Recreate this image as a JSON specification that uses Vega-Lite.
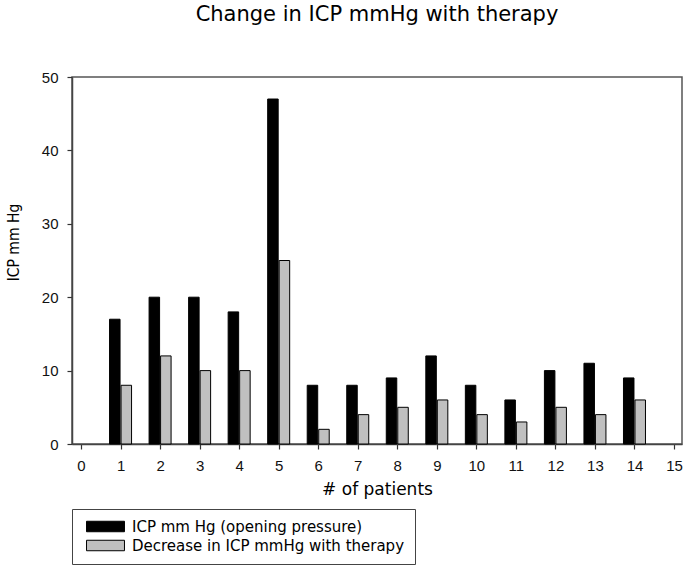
{
  "$schema": "https://vega.github.io/schema/vega-lite/v6.json",
  "width": 610,
  "height": 367,
  "autosize": {"type": "none"},
  "padding": {"left": 72, "top": 77, "right": 7, "bottom": 128},
  "background": "white",
  "title": {
    "text": "Change in ICP mmHg with therapy",
    "font": "DejaVu Sans",
    "fontSize": 21,
    "fontWeight": "normal",
    "color": "#000000",
    "anchor": "middle",
    "offset": 45
  },
  "config": {
    "view": {"stroke": "#555555", "strokeWidth": 1.5},
    "axis": {
      "grid": false,
      "domainColor": "#444444",
      "domainWidth": 1.5,
      "tickColor": "#333333",
      "tickWidth": 1.2,
      "tickSize": 5,
      "labelFont": "Liberation Sans",
      "labelFontSize": 15,
      "labelColor": "#111111",
      "labelPadding": 9,
      "titleFontWeight": "normal",
      "titleColor": "#000000"
    }
  },
  "data": {
    "values": [
      {"patient": 1, "series": "ICP mm Hg (opening pressure)", "value": 17},
      {"patient": 2, "series": "ICP mm Hg (opening pressure)", "value": 20},
      {"patient": 3, "series": "ICP mm Hg (opening pressure)", "value": 20},
      {"patient": 4, "series": "ICP mm Hg (opening pressure)", "value": 18},
      {"patient": 5, "series": "ICP mm Hg (opening pressure)", "value": 47},
      {"patient": 6, "series": "ICP mm Hg (opening pressure)", "value": 8},
      {"patient": 7, "series": "ICP mm Hg (opening pressure)", "value": 8},
      {"patient": 8, "series": "ICP mm Hg (opening pressure)", "value": 9},
      {"patient": 9, "series": "ICP mm Hg (opening pressure)", "value": 12},
      {"patient": 10, "series": "ICP mm Hg (opening pressure)", "value": 8},
      {"patient": 11, "series": "ICP mm Hg (opening pressure)", "value": 6},
      {"patient": 12, "series": "ICP mm Hg (opening pressure)", "value": 10},
      {"patient": 13, "series": "ICP mm Hg (opening pressure)", "value": 11},
      {"patient": 14, "series": "ICP mm Hg (opening pressure)", "value": 9},
      {"patient": 1, "series": "Decrease in ICP mmHg with therapy", "value": 8},
      {"patient": 2, "series": "Decrease in ICP mmHg with therapy", "value": 12},
      {"patient": 3, "series": "Decrease in ICP mmHg with therapy", "value": 10},
      {"patient": 4, "series": "Decrease in ICP mmHg with therapy", "value": 10},
      {"patient": 5, "series": "Decrease in ICP mmHg with therapy", "value": 25},
      {"patient": 6, "series": "Decrease in ICP mmHg with therapy", "value": 2},
      {"patient": 7, "series": "Decrease in ICP mmHg with therapy", "value": 4},
      {"patient": 8, "series": "Decrease in ICP mmHg with therapy", "value": 5},
      {"patient": 9, "series": "Decrease in ICP mmHg with therapy", "value": 6},
      {"patient": 10, "series": "Decrease in ICP mmHg with therapy", "value": 4},
      {"patient": 11, "series": "Decrease in ICP mmHg with therapy", "value": 3},
      {"patient": 12, "series": "Decrease in ICP mmHg with therapy", "value": 5},
      {"patient": 13, "series": "Decrease in ICP mmHg with therapy", "value": 4},
      {"patient": 14, "series": "Decrease in ICP mmHg with therapy", "value": 6}
    ]
  },
  "encoding": {
    "x": {
      "field": "patient",
      "type": "quantitative",
      "scale": {"domain": [-0.228, 15.202], "nice": false, "zero": false, "padding": 0},
      "axis": {
        "values": [0,1,2,3,4,5,6,7,8,9,10,11,12,13,14,15],
        "format": "d",
        "title": "# of patients",
        "titleFont": "DejaVu Sans",
        "titleFontSize": 17,
        "titleY": 50,
        "titleBaseline": "alphabetic"
      }
    },
    "y": {
      "field": "value",
      "type": "quantitative",
      "scale": {"domain": [0, 50], "nice": false, "padding": 0},
      "axis": {
        "values": [0, 10, 20, 30, 40, 50],
        "title": "ICP mm Hg",
        "titleFont": "DejaVu Sans Condensed, Liberation Sans",
        "titleFontSize": 15.5,
        "titleAngle": -90,
        "titleX": -54,
        "titleY": 165,
        "titleAlign": "center",
        "titleBaseline": "alphabetic"
      }
    },
    "color": {
      "field": "series",
      "type": "nominal",
      "scale": {
        "domain": ["ICP mm Hg (opening pressure)", "Decrease in ICP mmHg with therapy"],
        "range": ["#000000", "#c0c0c0"]
      },
      "legend": {
        "title": null,
        "orient": "none",
        "legendX": 0,
        "legendY": 432,
        "padding": 10,
        "strokeColor": "#444444",
        "fillColor": "white",
        "symbolType": "M-3.62,-1H3.62V1H-3.62Z",
        "symbolSize": 110,
        "symbolOffset": 16,
        "symbolStrokeColor": "#000000",
        "symbolStrokeWidth": 1,
        "symbolOpacity": 1,
        "labelFont": "DejaVu Sans",
        "labelFontSize": 15,
        "labelColor": "#000000",
        "labelOffset": 19,
        "rowPadding": 3,
        "labelLimit": 400
      }
    }
  },
  "layer": [
    {
      "transform": [{"filter": "datum.series === 'ICP mm Hg (opening pressure)'"}],
      "mark": {"type": "bar", "width": 10.5, "xOffset": -5.75, "stroke": "#000000", "strokeWidth": 1}
    },
    {
      "transform": [{"filter": "datum.series === 'Decrease in ICP mmHg with therapy'"}],
      "mark": {"type": "bar", "width": 10.5, "xOffset": 5.75, "stroke": "#000000", "strokeWidth": 1}
    }
  ]
}
